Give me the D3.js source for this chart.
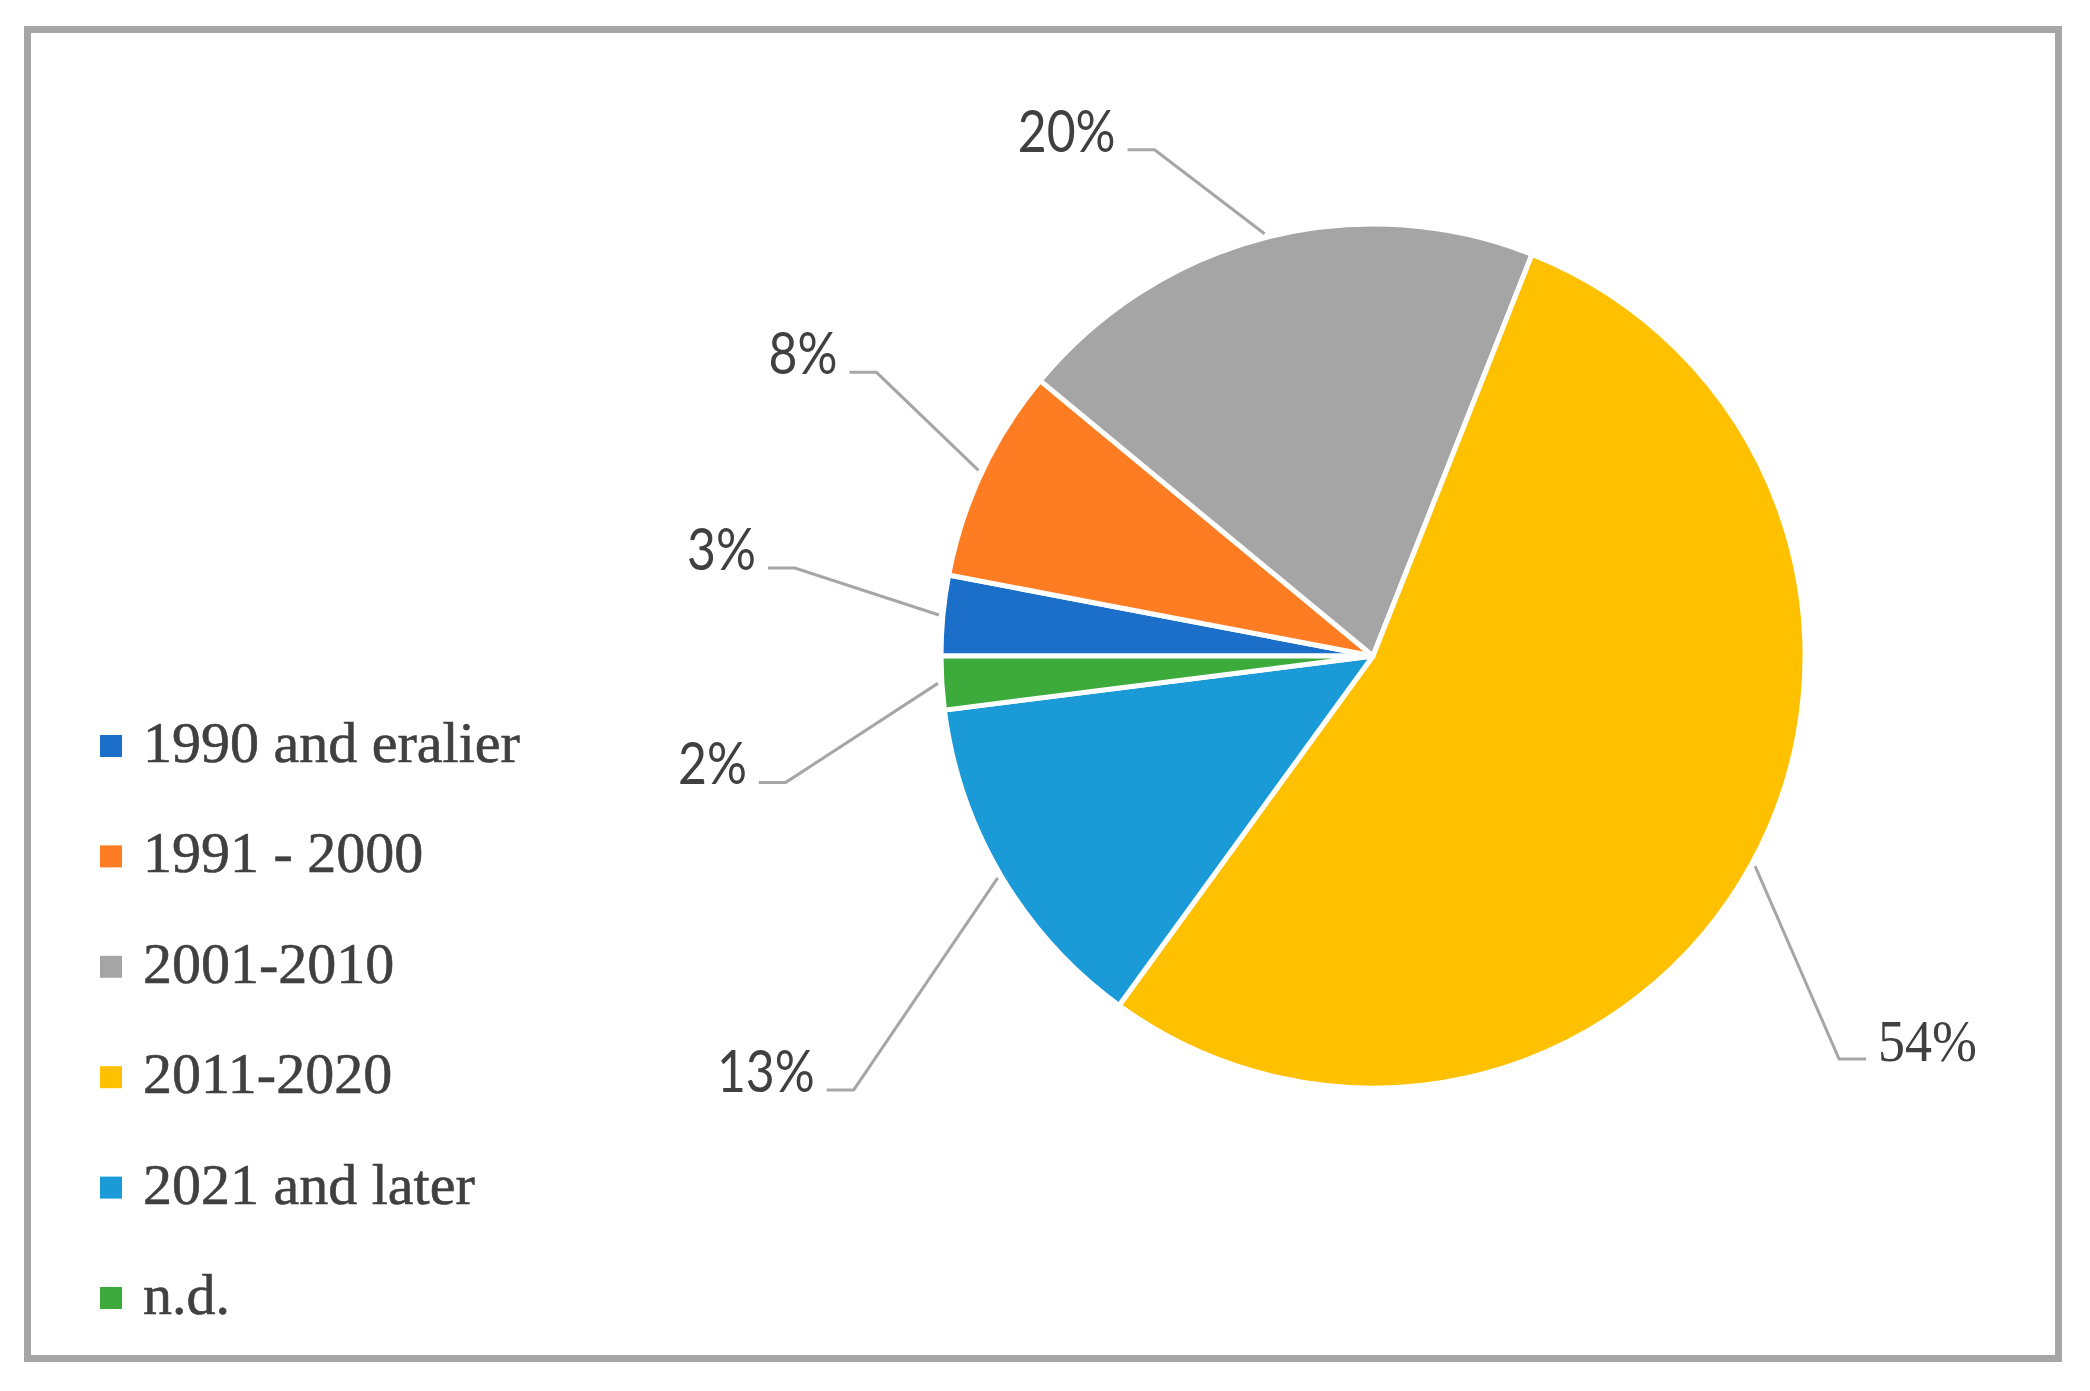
<!DOCTYPE html>
<html>
<head>
<meta charset="utf-8">
<script src="https://cdn.jsdelivr.net/npm/d3@7"></script>
<style>
  body { margin: 0; background: #fff; }
  svg { display: block; }
</style>
</head>
<body>
<div id="chart"></div>
<script>
// data
const categories = ["1990 and eralier", "1991 - 2000", "2001-2010", "2011-2020", "2021 and later", "n.d."];
const shares = [3, 8, 20, 54, 13, 2];
const sliceColors = ["#1b6fc8", "#fe7c22", "#a5a5a5", "#ffc000", "#1a9bd7", "#3dab3b"];

// layout: where each leader line bends, relative to its slice edge
const elbowOffsets = [[-144, -47], [-102, -98], [-110, -84], [84, 193], [-144, 212], [-152, 99]];
const serifLabel = [false, false, false, true, false, false];

const width = 2090, height = 1391;
const cx = 1373, cy = 656, radius = 432;

const data = categories.map((c, i) => ({ name: c, value: shares[i], color: sliceColors[i] }));

const svg = d3.select("#chart")
  .append("svg")
    .attr("width", width)
    .attr("height", height);

// frame
svg.append("rect")
  .attr("x", 27.5)
  .attr("y", 29.5)
  .attr("width", 2031)
  .attr("height", 1329)
  .attr("fill", "none")
  .attr("stroke", "#a6a6a6")
  .attr("stroke-width", 7);

// pie, clockwise from 9 o'clock
const pie = d3.pie()
  .sort(null)
  .value(d => d.value)
  .startAngle(-Math.PI / 2)
  .endAngle(1.5 * Math.PI);
const arcs = pie(data);

const arc = d3.arc().innerRadius(0).outerRadius(radius);
const edgeArc = d3.arc().innerRadius(radius + 4).outerRadius(radius + 4);

const inner = svg.append("g")
  .attr("transform", `translate(${cx}, ${cy})`);

inner.selectAll(".slice")
  .data(arcs)
  .join("path")
    .attr("class", "slice")
    .attr("d", arc)
    .attr("fill", d => d.data.color)
    .attr("stroke", "#fff")
    .attr("stroke-width", 5)
    .attr("stroke-linejoin", "round");

// leader lines + labels
const labels = arcs.map((d, i) => {
  const [sx, sy] = edgeArc.centroid(d);
  const [ox, oy] = elbowOffsets[i];
  const side = ox < 0 ? -1 : 1;
  const ex = sx + ox, ey = sy + oy;
  return { d, i, side, pts: [[sx, sy], [ex, ey], [ex + side * 27, ey]], tx: ex + side * 39, ty: ey + 2 };
});

inner.selectAll(".leader")
  .data(labels)
  .join("path")
    .attr("class", "leader")
    .attr("d", l => d3.line()(l.pts))
    .attr("fill", "none")
    .attr("stroke", "#a6a6a6")
    .attr("stroke-width", 3);

inner.selectAll(".pct")
  .data(labels)
  .join("text")
    .attr("class", "pct")
    .attr("transform", l => `translate(${l.tx}, ${l.ty}) scale(${serifLabel[l.i] ? 0.9 : 0.86}, 1)`)
    .attr("text-anchor", l => l.side < 0 ? "end" : "start")
    .attr("font-family", l => serifLabel[l.i] ? "'Liberation Serif', serif" : "Lato, sans-serif")
    .attr("font-size", l => serifLabel[l.i] ? 60 : 58)
    .attr("fill", "#404040")
    .text(l => `${l.d.data.value}%`);

// legend
const yLegend = d3.scalePoint()
  .domain(categories)
  .range([746, 1298]);

const legend = svg.append("g");
const rows = legend.selectAll(".legend-row")
  .data(data)
  .join("g")
    .attr("class", "legend-row")
    .attr("transform", d => `translate(100, ${yLegend(d.name)})`);

rows.append("rect")
  .attr("x", 0)
  .attr("y", -11)
  .attr("width", 22)
  .attr("height", 22)
  .attr("fill", d => d.color);

rows.append("text")
  .attr("x", 43)
  .attr("y", 16)
  .attr("font-family", "'Liberation Serif', serif")
  .attr("font-size", 58)
  .attr("fill", "#404040")
  .attr("stroke", "#404040")
  .attr("stroke-width", 0.6)
  .text(d => d.name);
</script>
</body>
</html>
